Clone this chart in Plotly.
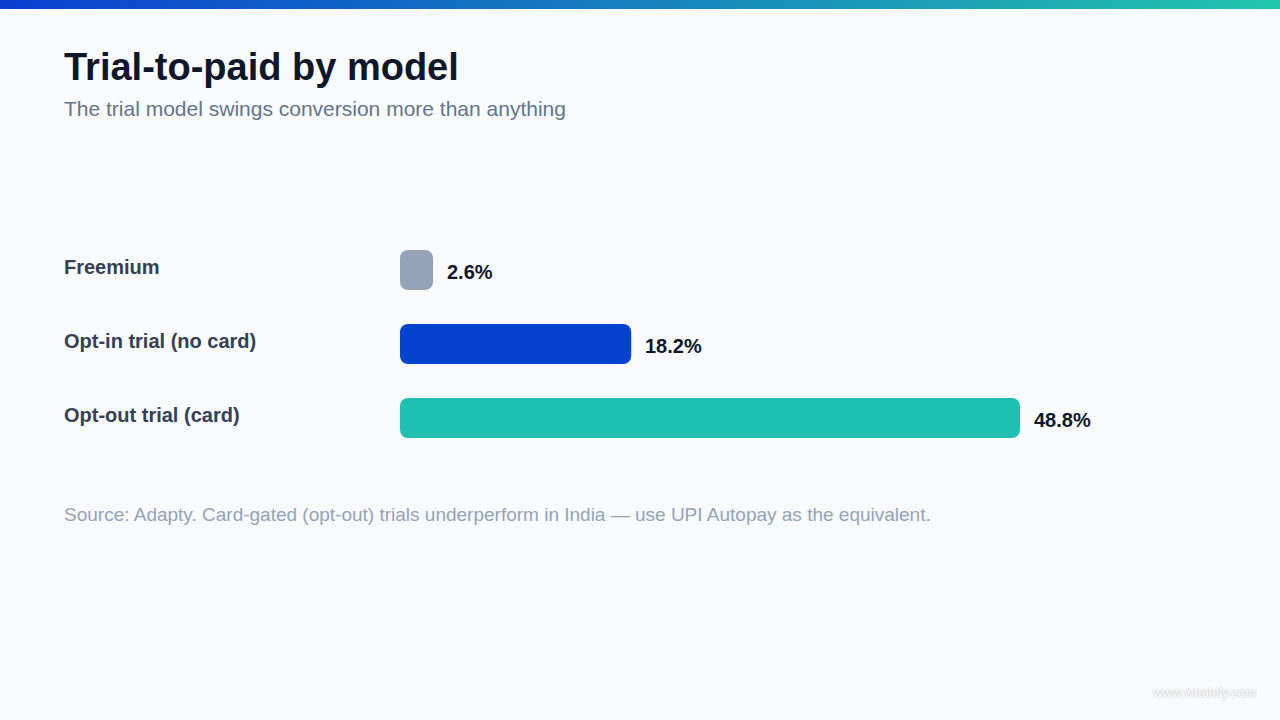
import plotly.graph_objects as go

categories = ["Freemium", "Opt-in trial (no card)", "Opt-out trial (card)"]
values = [2.6, 18.2, 48.8]
value_labels = ["2.6%", "18.2%", "48.8%"]
bar_colors = ["#94a3b8", "#0443cf", "#20c0b1"]

title = "Trial-to-paid by model"
subtitle = "The trial model swings conversion more than anything"
source = "Source: Adapty. Card-gated (opt-out) trials underperform in India \u2014 use UPI Autopay as the equivalent."
watermark = "www.vmobify.com"

W, H = 1280, 720
ML, MR, MT, MB = 400, 64, 233, 265
PW = W - ML - MR
PH = H - MT - MB
FONT = "Liberation Sans, Arial, Helvetica, sans-serif"


def px_x(p):
    return (p - ML) / PW


def px_y(p):
    return (H - MB - p) / PH


fig = go.Figure()
# each bar is drawn as two heavily overlapping pieces so both ends get rounded corners
fig.add_trace(go.Bar(
    x=[v * 0.9 for v in values], base=[v * 0.1 for v in values],
    y=categories, orientation="h",
    marker=dict(color=bar_colors, line=dict(width=0), cornerradius=8),
    hoverinfo="skip", showlegend=False,
))
fig.add_trace(go.Bar(
    x=[-v * 0.9 for v in values], base=[v * 0.9 for v in values],
    y=categories, orientation="h",
    marker=dict(color=bar_colors, line=dict(width=0), cornerradius=8),
    hoverinfo="skip", showlegend=False,
))

annotations = []
for c, v, t in zip(categories, values, value_labels):
    annotations.append(dict(
        x=v, y=c, xref="x", yref="y", text=f"<b>{t}</b>", showarrow=False,
        xanchor="left", yanchor="middle", xshift=12, yshift=-2,
        font=dict(family=FONT, size=20, color="#0f172a"),
    ))
    annotations.append(dict(
        x=px_x(62), y=c, xref="paper", yref="y", text=f"<b>{c}</b>", showarrow=False,
        xanchor="left", yanchor="middle", yshift=3,
        font=dict(family=FONT, size=20, color="#334155"),
    ))

annotations += [
    dict(x=px_x(62), y=px_y(67), xref="paper", yref="paper", text=f"<b>{title}</b>",
         showarrow=False, xanchor="left", yanchor="middle",
         font=dict(family=FONT, size=38, color="#0f172a")),
    dict(x=px_x(62), y=px_y(109), xref="paper", yref="paper", text=subtitle,
         showarrow=False, xanchor="left", yanchor="middle",
         font=dict(family=FONT, size=21, color="#64748b")),
    dict(x=px_x(62), y=px_y(514), xref="paper", yref="paper", text=source,
         showarrow=False, xanchor="left", yanchor="middle",
         font=dict(family=FONT, size=19, color="#94a3b8")),
    dict(x=px_x(1258), y=px_y(692), xref="paper", yref="paper", text=watermark,
         showarrow=False, xanchor="right", yanchor="middle",
         font=dict(family=FONT, size=13, color="#ffffff",
                   shadow="0px 0px 2px rgba(0,0,0,0.35)")),
]

# top gradient strip
shapes = []
c0 = (10, 63, 208)
c1 = (34, 196, 172)
N = 160
for i in range(N):
    t = i / (N - 1)
    col = tuple(round(a + (b - a) * t) for a, b in zip(c0, c1))
    shapes.append(dict(
        type="rect", xref="paper", yref="paper", layer="above",
        x0=px_x(W * i / N), x1=px_x(W * (i + 1) / N + 1),
        y0=px_y(9), y1=px_y(0),
        fillcolor="rgb(%d,%d,%d)" % col, line=dict(width=0),
    ))

fig.update_layout(
    width=W, height=H,
    margin=dict(l=ML, r=MR, t=MT, b=MB, pad=0),
    paper_bgcolor="#f8fafc", plot_bgcolor="#f8fafc",
    barmode="overlay",
    bargap=1 - 40 / 74,
    xaxis=dict(range=[0, PW / 12.705], visible=False, fixedrange=True),
    yaxis=dict(autorange="reversed", visible=False, fixedrange=True),
    annotations=annotations, shapes=shapes,
    showlegend=False,
)

fig.write_html("out.html", config={"displayModeBar": False})
